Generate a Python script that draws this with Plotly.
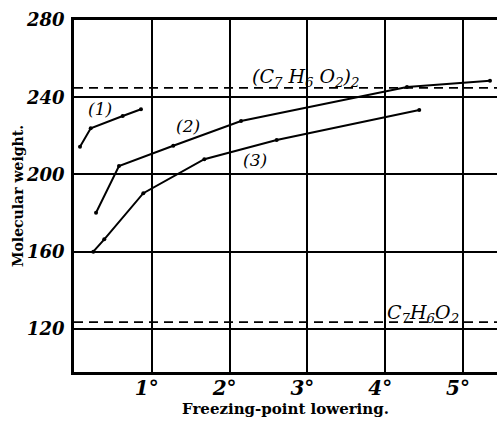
import plotly.graph_objects as go

# Curve data: freezing-point lowering (deg) vs molecular weight
c1_x = [0.077, 0.215, 0.626, 0.861]
c1_y = [214.4, 223.9, 230.3, 233.8]

c2_x = [0.283, 0.578, 1.276, 2.147, 4.28, 5.347]
c2_y = [180.2, 204.4, 214.9, 227.7, 245.3, 248.6]

c3_x = [0.248, 0.389, 0.891, 1.675, 2.605, 4.438]
c3_y = [160.0, 166.4, 190.3, 207.9, 217.9, 233.4]

dimer_mw = 244.8
monomer_mw = 123.5

x_ticks = [1, 2, 3, 4, 5]
x_tick_text = ["1°", "2°", "3°", "4°", "5°"]
y_ticks = [120, 160, 200, 240, 280]
y_tick_text = ["120", "160", "200", "240", "280"]

X_MAX = 5.437
Y_MIN = 97.7

fig = go.Figure()

for xs, ys in [(c1_x, c1_y), (c2_x, c2_y), (c3_x, c3_y)]:
    fig.add_trace(go.Scatter(
        x=xs, y=ys, mode="lines+markers",
        line=dict(color="black", width=2),
        marker=dict(color="black", size=4),
        showlegend=False, hoverinfo="skip",
    ))

for mw in [dimer_mw, monomer_mw]:
    fig.add_trace(go.Scatter(
        x=[0, X_MAX], y=[mw, mw], mode="lines",
        line=dict(color="black", width=1.8, dash="9px,6px"),
        showlegend=False, hoverinfo="skip",
    ))

annotations = [
    dict(x=0.33, y=234, text="<i>(1)</i>", size=17),
    dict(x=1.47, y=225, text="<i>(2)</i>", size=17),
    dict(x=2.33, y=207.5, text="<i>(3)</i>", size=17),
    dict(x=2.97, y=250, text="<i>(C<sub>7</sub> H<sub>6</sub> O<sub>2</sub>)<sub>2</sub></i>", size=19),
    dict(x=4.49, y=128, text="<i>C<sub>7</sub>H<sub>6</sub>O<sub>2</sub></i>", size=19),
]
for a in annotations:
    fig.add_annotation(x=a["x"], y=a["y"], text=a["text"], showarrow=False,
                       font=dict(family="DejaVu Serif", size=a["size"], color="black"),
                       xref="x", yref="y")

fig.update_layout(
    width=497, height=422,
    margin=dict(l=74, r=0, t=20, b=50),
    paper_bgcolor="white", plot_bgcolor="white",
    xaxis=dict(
        range=[0, X_MAX], tickvals=x_ticks,
        ticktext=["<b><i>" + t + "</i></b>" for t in x_tick_text],
        showgrid=True, gridcolor="black", gridwidth=1.6,
        showline=True, linecolor="black", linewidth=2.5, mirror=True,
        ticks="", zeroline=False, ticklabelshift=-5, ticklabelstandoff=-4,
        tickfont=dict(family="DejaVu Serif", size=20, color="black"),
        title=dict(text="<b>Freezing-point lowering.</b>", standoff=2,
                   font=dict(family="DejaVu Serif", size=15, color="black")),
    ),
    yaxis=dict(
        range=[Y_MIN, 280], tickvals=y_ticks,
        ticktext=["<b><i>" + t + "</i></b>" for t in y_tick_text],
        showgrid=True, gridcolor="black", gridwidth=1.6,
        showline=True, linecolor="black", linewidth=2.5, mirror=False,
        ticks="", zeroline=False, ticklabelstandoff=3,
        tickfont=dict(family="DejaVu Serif", size=18, color="black"),
        title=dict(text="<b>Molecular weight.</b>", standoff=0,
                   font=dict(family="DejaVu Serif", size=14, color="black")),
    ),
)

fig.write_html("out.html")
